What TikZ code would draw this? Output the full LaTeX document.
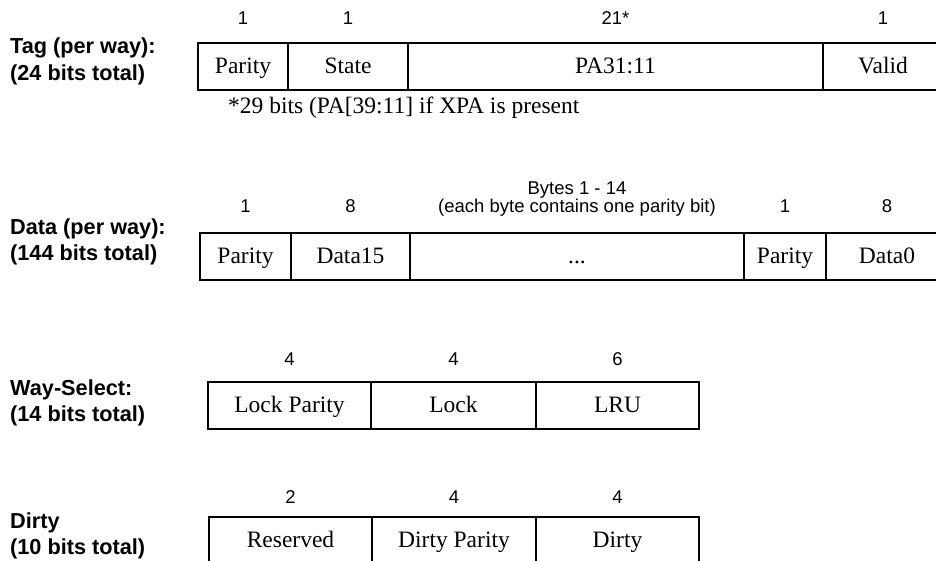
\documentclass[tikz,border=0pt]{standalone}
\usepackage{fontspec}
\setmainfont{Liberation Serif}
\setsansfont{Liberation Sans}
\usetikzlibrary{positioning}

\begin{document}
\begin{tikzpicture}[x=1pt,y=-1pt,
  field/.style={draw,line width=1.4pt,minimum height=47pt,inner sep=0pt,outer sep=0pt,
    text height=17pt,text depth=3.5pt,font=\fontsize{23.5}{28}\selectfont},
  bitnum/.style={anchor=base,inner sep=0pt,font=\sffamily\fontsize{18.5}{22}\selectfont},
  rowname/.style={anchor=base west,inner sep=0pt,font=\sffamily\bfseries\fontsize{21.7}{26}\selectfont}]
  \clip (0,0) rectangle (936,561);
  % tag word
  \node[field,minimum width=90pt,anchor=north west] (tagpar) at (198,43) {Parity};
  \node[field,minimum width=120pt,right=0pt of tagpar] (tagstate) {State};
  \node[field,minimum width=415pt,right=0pt of tagstate] (tagpa) {PA31:11};
  \node[field,minimum width=120pt,right=0pt of tagpa] (tagvalid) {Valid};
  \node[rowname] (tagname) at (10,54) {Tag (per way):};
  \node[rowname] (tagtotal) at (10,81) {(24 bits total)};
  \node[anchor=base west,inner sep=0pt,font=\fontsize{23.5}{28}\selectfont] (tagnote)
    at (228,114) {*29 bits (PA[39:11] if XPA is present};
  % data word
  \node[field,minimum width=91pt,anchor=north west] (datapar) at (200,233) {Parity};
  \node[field,minimum width=119pt,right=0pt of datapar] (datahi) {Data15};
  \node[field,minimum width=334pt,right=0pt of datahi] (datamid) {...};
  \node[field,minimum width=82pt,right=0pt of datamid] (datalopar) {Parity};
  \node[field,minimum width=122pt,right=0pt of datalopar] (datalo) {Data0};
  \node[rowname] (dataname) at (10,234) {Data (per way):};
  \node[rowname] (datatotal) at (10,261) {(144 bits total)};
  % way-select
  \node[field,minimum width=163pt,anchor=north west] (waylockpar) at (208,382) {Lock Parity};
  \node[field,minimum width=165pt,right=0pt of waylockpar] (waylock) {Lock};
  \node[field,minimum width=163pt,right=0pt of waylock] (waylru) {LRU};
  \node[rowname] (wayname) at (10,395) {Way-Select:};
  \node[rowname] (waytotal) at (10,421) {(14 bits total)};
  % dirty
  \node[field,minimum width=163pt,anchor=north west] (dirtyres) at (209,517) {Reserved};
  \node[field,minimum width=164pt,right=0pt of dirtyres] (dirtypar) {Dirty Parity};
  \node[field,minimum width=163pt,right=0pt of dirtypar] (dirtybits) {Dirty};
  \node[rowname] (dirtyname) at (10,528) {Dirty};
  \node[rowname] (dirtytotal) at (10,554) {(10 bits total)};
  % bit counts
  \foreach \f/\n/\y in {tagpar/1/25,tagstate/1/25,tagpa/21*/25,tagvalid/1/25,
      datapar/1/213,datahi/8/213,datamid/(each byte contains one parity bit)/213,
      datalopar/1/213,datalo/8/213,
      waylockpar/4/365,waylock/4/365,waylru/6/365,
      dirtyres/2/503,dirtypar/4/503,dirtybits/4/503}
    \node[bitnum] (\f-w) at (\f.north |- 0,\y) {\n};
  \node[bitnum] (datamid-head) at ([yshift=18pt]datamid-w.base) {Bytes 1 - 14};
\end{tikzpicture}
\end{document}
